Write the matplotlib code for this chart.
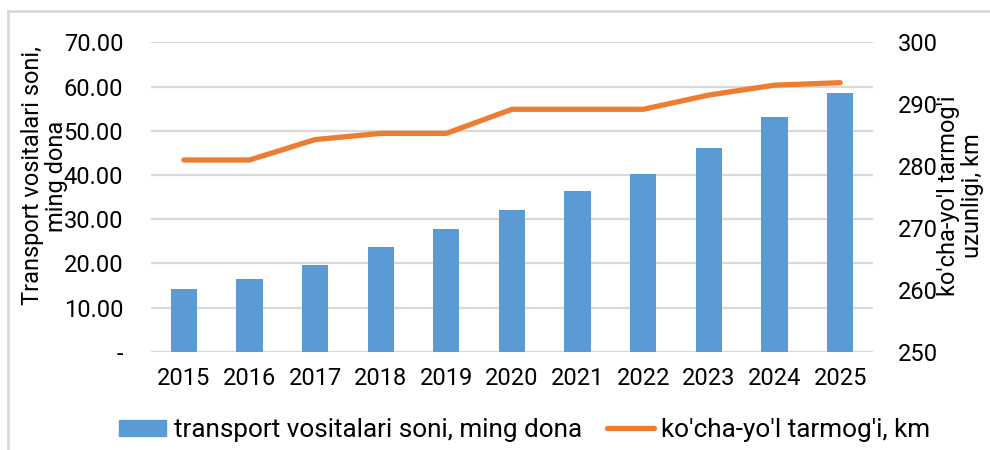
import numpy as np
import matplotlib
matplotlib.use("Agg")
import matplotlib.pyplot as plt
from matplotlib.patches import Patch
from matplotlib.lines import Line2D

plt.rcParams['font.family'] = ['Roboto', 'DejaVu Sans']

# data
years = ["2015", "2016", "2017", "2018", "2019", "2020", "2021", "2022", "2023", "2024", "2025"]
vehicles = [14.2, 16.4, 19.6, 23.7, 27.8, 32.1, 36.3, 40.2, 46.1, 53.1, 58.5]   # ming dona
road_km = [281.0, 281.0, 284.3, 285.3, 285.3, 289.2, 289.2, 289.2, 291.5, 293.1, 293.5]

left_ticks = [0, 10, 20, 30, 40, 50, 60, 70]
left_labels = ["-", "10.00", "20.00", "30.00", "40.00", "50.00", "60.00", "70.00"]
right_ticks = [250, 260, 270, 280, 290, 300]

bar_label = "transport vositalari soni, ming dona"
line_label = "ko'cha-yo'l tarmog'i, km"

blue = "#5B9BD5"
orange = "#ED7D31"
grid = "#D9D9D9"
fs = 17

fig = plt.figure(figsize=(9.9, 4.5), dpi=100)
ax = fig.add_axes([0.1525, 0.2184, 0.7293, 0.6872])
ax2 = ax.twinx()

x = np.arange(len(years))
ax.bar(x, vehicles, width=0.4, color=blue, zorder=3)
ax2.plot(x, road_km, color=orange, lw=3.8, solid_capstyle='round', zorder=4)

ax.set_xlim(-0.5, len(years) - 0.5)
ax.set_ylim(0, 70)
ax2.set_ylim(250, 300)

ax.set_yticks(left_ticks)
ax.set_yticklabels(left_labels)
ax2.set_yticks(right_ticks)
ax.set_xticks(x)
ax.set_xticklabels(years)

ax.yaxis.grid(True, color=grid, lw=1.6, zorder=0)
ax.set_axisbelow(True)
for a in (ax, ax2):
    for s in a.spines.values():
        s.set_visible(False)
    a.tick_params(length=0, labelsize=fs, colors="black")
ax.tick_params(axis='y', pad=20)
ax.tick_params(axis='x', pad=11)
ax2.tick_params(axis='y', pad=18)

fig.text(0.045, 0.609, "Transport vositalari soni,\nming dona", rotation=90,
         ha='center', va='center', fontsize=fs, linespacing=1.05)
fig.text(0.97, 0.565, "ko'cha-yo'l tarmog'i\nuzunligi, km", rotation=90,
         ha='center', va='center', fontsize=fs, linespacing=1.05)

handles = [Patch(color=blue, label=bar_label),
           Line2D([], [], color=orange, lw=3.8, solid_capstyle='round', label=line_label)]
fig.legend(handles=handles, loc='center', bbox_to_anchor=(0.53, 0.044), ncol=2,
           frameon=False, fontsize=18.8, handlelength=1.8, handleheight=0.62,
           handletextpad=0.3, columnspacing=0.95)

# outer chart frame (cropped at right/bottom in the reference)
fig.add_artist(Line2D([8 / 990, 1], [1 - 11 / 450] * 2, transform=fig.transFigure,
                      color=grid, lw=2))
fig.add_artist(Line2D([8 / 990] * 2, [0, 1 - 11 / 450], transform=fig.transFigure,
                      color=grid, lw=2))

fig.savefig("out.png", dpi=100)
